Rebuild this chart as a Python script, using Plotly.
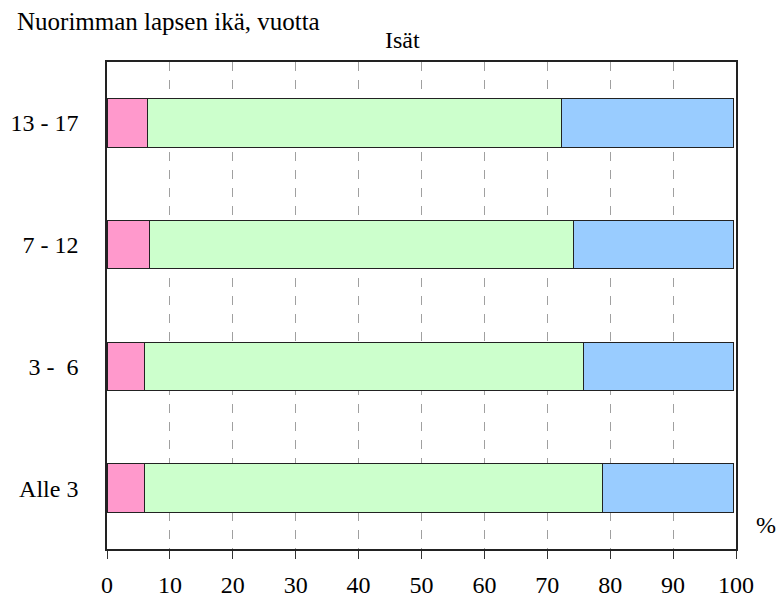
import plotly.graph_objects as go

categories = ["Alle 3", "3 -  6", "7 - 12", "13 - 17"]
pink_vals = [6.0, 6.0, 6.7, 6.4]
green_vals = [72.8, 69.8, 67.5, 65.8]
blue_vals = [20.8, 23.8, 25.4, 27.4]
x_ticks = [0, 10, 20, 30, 40, 50, 60, 70, 80, 90, 100]

title_text = "Isät"
ytitle_text = "Nuorimman lapsen ikä, vuotta"
unit_text = "%"

FONT = "'Liberation Serif', 'Times New Roman', Times, serif"
W, H = 779, 601
L, R, T, B = 107, 43, 62, 52
pw = W - L - R
ph = H - T - B

def px(x):
    return (x - L) / pw

def py(y):
    return (H - B - y) / ph

fig = go.Figure()
for vals, col in [(pink_vals, "#FF99CC"), (green_vals, "#CCFFCC"), (blue_vals, "#99CCFF")]:
    fig.add_trace(go.Bar(
        y=categories, x=vals, orientation="h",
        marker=dict(color=col, line=dict(color="#222222", width=1)),
        showlegend=False, hoverinfo="x+y",
    ))

fig.update_layout(
    width=W, height=H,
    margin=dict(l=L, r=R, t=T, b=B, pad=0, autoexpand=False),
    barmode="stack", bargap=0.6,
    paper_bgcolor="white", plot_bgcolor="white",
    font=dict(family=FONT, size=24, color="black"),
    xaxis=dict(
        range=[0, 100], tickvals=x_ticks, ticktext=[str(v) for v in x_ticks],
        showgrid=True, gridcolor="#A0A0A0", griddash="dash", gridwidth=1,
        showline=True, mirror=True, linecolor="#222222", linewidth=1.5,
        ticks="outside", ticklen=8, tickcolor="#333333", tickwidth=1.2,
        ticklabelstandoff=5, zeroline=False, automargin=False,
        tickfont=dict(family=FONT, size=24, color="black"),
    ),
    yaxis=dict(
        categoryorder="array", categoryarray=categories,
        range=[-0.5, 3.5],
        showgrid=False, showline=True, mirror=True, linecolor="#222222", linewidth=1.5,
        ticks="", ticklabelstandoff=22, zeroline=False, automargin=False,
        tickfont=dict(family=FONT, size=24, color="black"),
    ),
    annotations=[
        dict(text=ytitle_text, xref="paper", yref="paper", x=px(15), y=py(22),
             xanchor="left", yanchor="middle", showarrow=False,
             font=dict(family=FONT, size=25, color="black")),
        dict(text=title_text, xref="paper", yref="paper", x=px(402.5), y=py(40),
             xanchor="center", yanchor="middle", showarrow=False,
             font=dict(family=FONT, size=24, color="black")),
        dict(text=unit_text, xref="paper", yref="paper", x=px(765.5), y=py(525),
             xanchor="center", yanchor="middle", showarrow=False,
             font=dict(family=FONT, size=24, color="black")),
    ],
)

fig.write_html(
    "out.html",
    config={"displayModeBar": False},
    post_script="document.body.style.margin='0px';document.body.style.overflow='hidden';",
)
